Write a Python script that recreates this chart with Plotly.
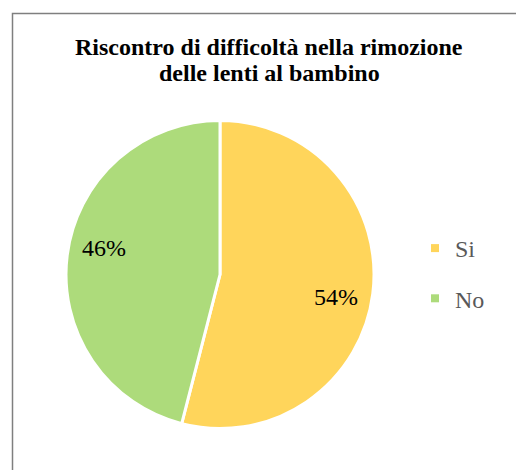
import math
import plotly.graph_objects as go

categories = ["Si", "No"]
values = [54, 46]
colors = ["#FFD55B", "#ADDB7B"]
title_lines = ["Riscontro di difficoltà nella rimozione", "delle lenti al bambino"]

W, H = 516, 470
SERIF = "Liberation Serif"
cx, cy, r = 220, 274.5, 154

fig = go.Figure()

fig.add_trace(go.Pie(
    labels=categories,
    values=values,
    sort=False,
    direction="clockwise",
    rotation=0,
    marker=dict(colors=colors, line=dict(color="white", width=3)),
    textinfo="none",
    showlegend=False,
    hoverinfo="label+percent",
    domain=dict(x=[(cx - r) / W, (cx + r) / W],
                y=[1 - (cy + r) / H, 1 - (cy - r) / H]),
))

total = sum(values)
annotations = []
start = 0.0
for v in values:
    frac = v / total
    mid = (start + frac / 2) * 360 + 4.5
    start += frac
    ang = math.radians(mid)
    px = cx + 0.77 * r * math.sin(ang)
    py = cy - 2 - 0.77 * r * math.cos(ang)
    annotations.append(dict(
        x=px / W, y=1 - py / H, xref="paper", yref="paper",
        text=f"{round(frac * 100)}%", showarrow=False,
        xanchor="center", yanchor="middle",
        font=dict(family=SERIF, size=24, color="black"),
    ))

for i, line in enumerate(title_lines):
    annotations.append(dict(
        x=269 / W, y=1 - (47 + 26 * i) / H, xref="paper", yref="paper",
        text=f"<b>{line}</b>", showarrow=False,
        xanchor="center", yanchor="middle",
        font=dict(family=SERIF, size=24, color="black"),
    ))

for cat, col in zip(categories, colors):
    fig.add_trace(go.Scatter(
        x=[None], y=[None], mode="markers", name=cat,
        marker=dict(symbol="square", size=8, color=col),
        legendgroup=cat, showlegend=True,
    ))

fig.update_layout(
    width=W, height=H,
    margin=dict(l=0, r=0, t=0, b=0),
    paper_bgcolor="white", plot_bgcolor="white",
    xaxis=dict(visible=False), yaxis=dict(visible=False),
    legend=dict(x=415 / W, xanchor="left", y=1 - 226 / H, yanchor="top",
                font=dict(family=SERIF, size=24, color="#595959"),
                tracegroupgap=16, bgcolor="rgba(0,0,0,0)"),
    annotations=annotations,
    shapes=[dict(type="rect", xref="paper", yref="paper",
                 x0=12.5 / W, x1=1.2, y0=-0.2, y1=1 - 13.5 / H,
                 line=dict(color="#7F7F7F", width=1.5), layer="below")],
)

fig.write_html("out.html")
